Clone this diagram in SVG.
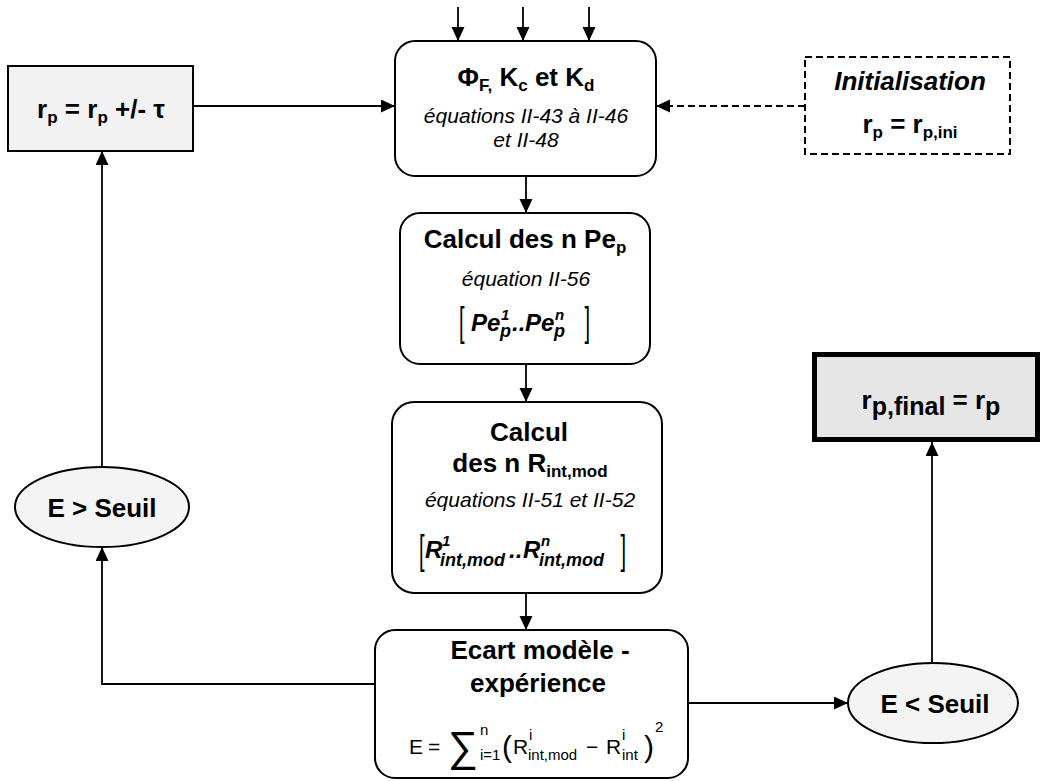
<svg xmlns="http://www.w3.org/2000/svg" width="1043" height="781" viewBox="0 0 1043 781">
<style>
text{font-family:'Liberation Sans',Arial,sans-serif;fill:#000}
.b{font-weight:bold;font-size:26px}
.bi{font-weight:bold;font-style:italic;font-size:26px}
.it{font-style:italic;font-size:21px}
.row{font-weight:bold;font-style:italic;font-size:24px}
.sup{font-weight:bold;font-style:italic;font-size:15px}
.sub{font-weight:bold;font-style:italic;font-size:18px}
.f{font-size:21px}
.fs{font-size:15px}
.br{font-size:20px}
.box{fill:#fff;stroke:#000;stroke-width:2}
.grey{fill:#f2f2f2;stroke:#000;stroke-width:2}
.ell{fill:#f4f4f4;stroke:#000;stroke-width:2}
.c{fill:none;stroke:#000;stroke-width:1.8}
.dash{stroke-dasharray:7 4}
</style>
<defs>
<marker id="ah" markerUnits="userSpaceOnUse" markerWidth="15" markerHeight="14" refX="14" refY="6.5" orient="auto">
<path d="M0,0 L14,6.5 L0,13 Z" fill="#000"/>
</marker>
</defs>

<g id="connectors">
<line class="c" x1="458" y1="7" x2="458" y2="41" marker-end="url(#ah)"/>
<line class="c" x1="523" y1="7" x2="523" y2="41" marker-end="url(#ah)"/>
<line class="c" x1="589" y1="7" x2="589" y2="41" marker-end="url(#ah)"/>
<line class="c" x1="193" y1="106" x2="395" y2="106" marker-end="url(#ah)"/>
<line class="c dash" x1="805" y1="106" x2="656" y2="106" marker-end="url(#ah)"/>
<line class="c" x1="526" y1="176" x2="526" y2="213" marker-end="url(#ah)"/>
<line class="c" x1="526" y1="364" x2="526" y2="402" marker-end="url(#ah)"/>
<line class="c" x1="526" y1="593" x2="526" y2="630" marker-end="url(#ah)"/>
<polyline class="c" points="375,684 102,684 102,547" marker-end="url(#ah)"/>
<line class="c" x1="102" y1="467" x2="102" y2="151" marker-end="url(#ah)"/>
<line class="c" x1="688" y1="703" x2="848" y2="703" marker-end="url(#ah)"/>
<line class="c" x1="932" y1="663" x2="932" y2="442" marker-end="url(#ah)"/>
</g>

<g id="update">
<rect class="grey" x="8" y="66" width="185" height="85"/>
<text class="b" x="101" y="118" text-anchor="middle">r<tspan font-size="17" dy="5">p</tspan><tspan dy="-5"> = r</tspan><tspan font-size="17" dy="5">p</tspan><tspan dy="-5"> +/- τ</tspan></text>
</g>

<g id="params">
<rect class="box" x="395" y="41" width="261" height="135" rx="20"/>
<text class="b" x="526" y="86" text-anchor="middle">Φ<tspan font-size="17" dy="5">F,</tspan><tspan dy="-5"> K</tspan><tspan font-size="17" dy="5">c</tspan><tspan dy="-5"> et K</tspan><tspan font-size="17" dy="5">d</tspan></text>
<text class="it" x="526" y="123" text-anchor="middle">équations II-43 à  II-46</text>
<text class="it" x="526" y="147" text-anchor="middle">et II-48</text>
</g>

<g id="init">
<rect class="box dash" x="805" y="57" width="205" height="97"/>
<text class="bi" x="910" y="90" text-anchor="middle">Initialisation</text>
<text class="b" x="910" y="133" text-anchor="middle">r<tspan font-size="17" dy="5">p</tspan><tspan dy="-5"> = r</tspan><tspan font-size="17" dy="5">p,ini</tspan></text>
</g>

<g id="pe">
<rect class="box" x="400" y="213" width="250" height="151" rx="20"/>
<text class="b" x="525" y="248" text-anchor="middle">Calcul des n Pe<tspan font-size="17" dy="5">p</tspan></text>
<text class="it" x="526" y="286" text-anchor="middle">équation II-56</text>
<text class="br" transform="translate(459,336) scale(1,2.05)">[</text>
<text class="br" text-anchor="end" transform="translate(590,336) scale(1,2.05)">]</text>
<text class="row" x="471" y="331">Pe</text>
<text class="sup" x="501" y="320">1</text>
<text class="sub" x="500" y="337">p</text>
<text class="row" x="512" y="331">..</text>
<text class="row" x="525" y="331">Pe</text>
<text class="sup" x="555" y="320">n</text>
<text class="sub" x="554" y="337">p</text>
</g>

<g id="rint">
<rect class="box" x="392" y="402" width="270" height="191" rx="22"/>
<text class="b" x="529" y="441" text-anchor="middle">Calcul</text>
<text class="b" x="530" y="472" text-anchor="middle">des n R<tspan font-size="17" dy="5">int,mod</tspan></text>
<text class="it" x="530" y="507" text-anchor="middle">équations II-51 et II-52</text>
<text class="br" transform="translate(419,564) scale(1,2.05)">[</text>
<text class="br" text-anchor="end" transform="translate(626,564) scale(1,2.05)">]</text>
<text class="row" x="425" y="558">R</text>
<text class="sup" x="442" y="546">1</text>
<text class="sub" x="440" y="566">int,mod</text>
<text class="row" x="509" y="558">..</text>
<text class="row" x="523" y="558">R</text>
<text class="sup" x="541" y="546">n</text>
<text class="sub" x="539" y="566">int,mod</text>
</g>

<g id="ecart">
<rect class="box" x="375" y="630" width="313" height="148" rx="20"/>
<text class="b" x="540" y="659" text-anchor="middle">Ecart modèle -</text>
<text class="b" x="538" y="692" text-anchor="middle">expérience</text>
<text class="f" x="409" y="754">E</text>
<text class="f" x="428" y="754">=</text>
<text x="448" y="761" font-size="42">∑</text>
<text class="fs" x="480" y="735">n</text>
<text class="fs" x="480" y="760">i=1</text>
<text x="502" y="757" font-size="30">(</text>
<text class="f" x="513" y="754">R</text>
<text class="fs" x="529" y="740">i</text>
<text class="fs" x="528" y="760">int,mod</text>
<text class="f" x="586" y="754">−</text>
<text class="f" x="606" y="754">R</text>
<text class="fs" x="622" y="740">i</text>
<text class="fs" x="622" y="760">int</text>
<text x="644" y="757" font-size="30">)</text>
<text class="fs" x="655" y="732">2</text>
</g>

<g id="gt">
<ellipse class="ell" cx="102" cy="507" rx="87" ry="40"/>
<text class="b" x="102" y="517" text-anchor="middle">E &gt; Seuil</text>
</g>

<g id="lt">
<ellipse class="ell" cx="933" cy="703" rx="85" ry="40"/>
<text class="b" x="935" y="713" text-anchor="middle">E &lt; Seuil</text>
</g>

<g id="final">
<rect x="814.5" y="354.5" width="223" height="85" fill="#e6e6e6" stroke="#000" stroke-width="5"/>
<text class="b" x="931" y="409" text-anchor="middle" font-size="38">r<tspan font-size="25" dy="6">p,final</tspan><tspan dy="-6"> = r</tspan><tspan font-size="25" dy="6">p</tspan></text>
</g>
</svg>
